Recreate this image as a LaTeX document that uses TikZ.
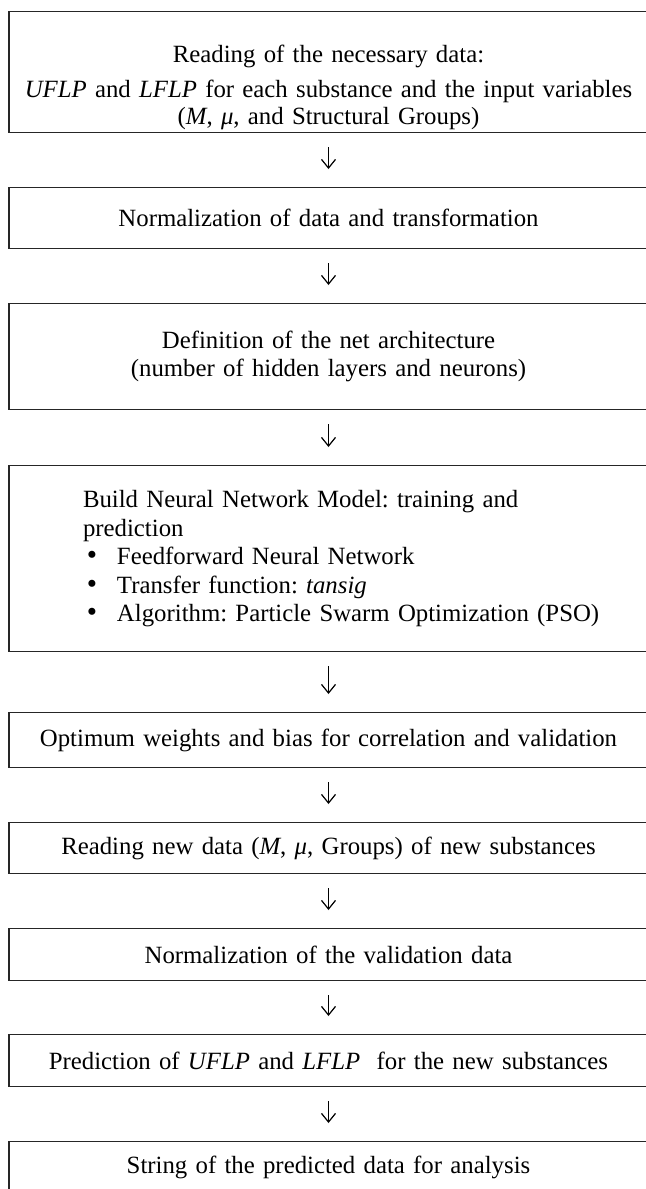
\documentclass[tikz,border=0pt]{standalone}
\usepackage{fontspec}
\setmainfont{Liberation Serif}
\usetikzlibrary{arrows.meta}

% bullet line inside the model box
\newcommand{\bitem}[1]{\hspace*{58.5pt}\makebox[22.5pt][l]{{\fontsize{22pt}{0pt}\selectfont\textbullet}}#1}

\begin{document}
\frenchspacing
\begin{tikzpicture}[x=0.75pt, y=-0.75pt,
    stepbox/.style={draw=black!85, line width=0.9pt, anchor=north,
        minimum width=479.25pt, text width=479.25pt, inner sep=0pt,
        align=center, font=\fontsize{18.6pt}{21.4pt}\selectfont},
    flow/.style={-{Straight Barb[length=6.5pt, width=10.5pt]}, line width=0.9pt,
        shorten <=10.5pt, shorten >=13.5pt}]

    % Page frame (px units)
    \useasboundingbox (0,0) rectangle (646,1189);

    % Boxes, top to bottom
    \node[stepbox, minimum height=90.75pt] (read) at (328.5,11)
        {\rule{0pt}{36pt}Reading of the necessary data:\\[5pt]
         \textit{UFLP} and \textit{LFLP} for each substance and the input variables\\[-1.5pt]
         (\textit{M}, \textit{μ}, and Structural Groups)};
    \node[stepbox, minimum height=45.75pt] (norm) at (328.5,187)
        {Normalization of data and transformation};
    \node[stepbox, minimum height=79.5pt] (arch) at (328.5,303)
        {Definition of the net architecture\\
         (number of hidden layers and neurons)};
    \node[stepbox, minimum height=139.5pt, align=left] (model) at (328.5,465)
        {\hspace*{55.5pt}Build Neural Network Model: training and\\
         \hspace*{55.5pt}prediction\\
         \bitem{Feedforward Neural Network}\\
         \bitem{Transfer function: \textit{tansig}}\\
         \bitem{Algorithm: Particle Swarm Optimization (PSO)}};
    \node[stepbox, minimum height=41.25pt] (weights) at (328.5,712)
        {Optimum weights and bias for correlation and validation};
    \node[stepbox, minimum height=38.25pt] (newdata) at (328.5,822)
        {Reading new data (\textit{M}, \textit{μ}, Groups) of new substances};
    \node[stepbox, minimum height=39pt] (valnorm) at (328.5,928)
        {Normalization of the validation data};
    \node[stepbox, minimum height=39pt] (predict) at (328.5,1034)
        {Prediction of \textit{UFLP} and \textit{LFLP}\ \ for the new substances};
    \node[stepbox, minimum height=38.25pt] (output) at (328.5,1141)
        {String of the predicted data for analysis};

    % Arrows between the steps
    \draw[flow] (read) -- (norm);
    \draw[flow] (norm) -- (arch);
    \draw[flow] (arch) -- (model);
    \draw[flow] (model) -- (weights);
    \draw[flow] (weights) -- (newdata);
    \draw[flow] (newdata) -- (valnorm);
    \draw[flow] (valnorm) -- (predict);
    \draw[flow] (predict) -- (output);

\end{tikzpicture}
\end{document}
